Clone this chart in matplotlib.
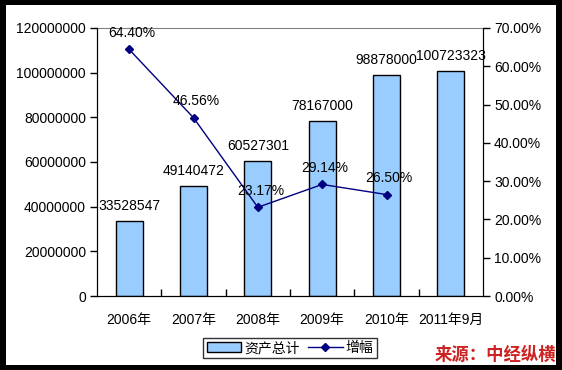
import numpy as np
import matplotlib
matplotlib.use("Agg")
import matplotlib.pyplot as plt
from matplotlib.patches import Rectangle
from matplotlib.lines import Line2D
from matplotlib.ticker import FuncFormatter, MultipleLocator

plt.rcParams['font.family'] = ['Liberation Sans', 'Noto Sans CJK SC', 'DejaVu Sans']

years = ["2006年", "2007年", "2008年", "2009年", "2010年", "2011年9月"]
assets = [33528547, 49140472, 60527301, 78167000, 98878000, 100723323]
growth = [64.40, 46.56, 23.17, 29.14, 26.50]

W, H = 562, 370
fig = plt.figure(figsize=(W / 100, H / 100), dpi=100)
fig.patch.set_facecolor("black")
# white canvas inside the black frame
fig.patches.append(Rectangle((6 / W, 5 / H), (556 - 6) / W, (365 - 5) / H,
                             transform=fig.transFigure, facecolor="white",
                             edgecolor="none", zorder=-5))

ax = fig.add_axes([97 / W, (H - 296) / H, (483 - 97) / W, (296 - 28) / H])
ax.set_facecolor("white")
x = np.arange(len(years))
ax.bar(x, assets, width=0.42, color="#99CCFF", edgecolor="black", linewidth=1, zorder=2)
for xi, v in zip(x, assets):
    ax.annotate(str(v), (xi, v), xytext=(0, 11), textcoords="offset points",
                ha="center", va="center", fontsize=10)

ax.set_xlim(-0.5, len(years) - 0.5)
ax.set_ylim(0, 120000000)
ax.yaxis.set_major_locator(MultipleLocator(20000000))
ax.yaxis.set_major_formatter(FuncFormatter(lambda v, p: "%d" % v))
ax.set_xticks(x)
ax.set_xticklabels(years)
ax.set_xticks(np.arange(0.5, len(years) - 0.5, 1), minor=True)
ax.tick_params(axis="x", which="major", length=0, pad=12, labelsize=10)
ax.tick_params(axis="x", which="minor", direction="in", length=5, width=1)
ax.tick_params(axis="y", direction="out", length=5, width=1, labelsize=10, pad=3)
ax.spines["top"].set_color("#808080")
for s in ["left", "bottom", "right"]:
    ax.spines[s].set_color("black")

ax2 = ax.twinx()
ax2.set_ylim(0, 70)
ax2.yaxis.set_major_locator(MultipleLocator(10))
ax2.yaxis.set_major_formatter(FuncFormatter(lambda v, p: "%.2f%%" % v))
ax2.tick_params(axis="y", direction="out", length=5, width=1, labelsize=10, pad=3)
ax2.spines["top"].set_visible(False)
ax2.spines["right"].set_color("black")
ax2.plot(x[:len(growth)], growth, color="#000080", linewidth=1, marker="D",
         markersize=4, zorder=3)
for xi, v in zip(x, growth):
    ax2.annotate("%.2f%%" % v, (xi, v), xytext=(2, 12), textcoords="offset points",
                 ha="center", va="center", fontsize=10)

handles = [Rectangle((0, 0), 1, 1, facecolor="#99CCFF", edgecolor="black"),
           Line2D([], [], color="#000080", marker="D", markersize=4, linewidth=1)]
fig.legend(handles, ["资产总计", "增幅"], loc="center", bbox_to_anchor=(290 / W, (H - 348) / H),
           ncol=2, frameon=True, fancybox=False, edgecolor="black", fontsize=10,
           handlelength=2.5, handletextpad=0.2, columnspacing=0.6, borderpad=0.25,
           borderaxespad=0)

fig.text(495 / W, (H - 355) / H, "来源：中经纵横", color="#CC2222", fontsize=12.5,
         fontweight="bold", style="italic", ha="center", va="center",
         family=["Noto Sans CJK SC", "DejaVu Sans"])

fig.savefig("out.png", dpi=100, facecolor=fig.get_facecolor())
